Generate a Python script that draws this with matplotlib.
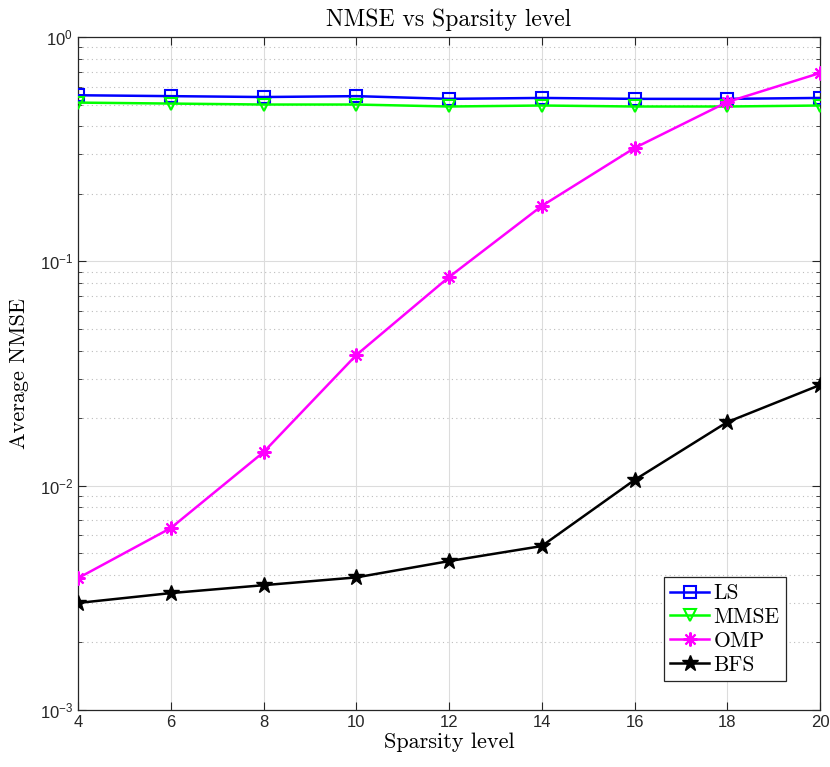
import matplotlib
matplotlib.use("Agg")
import matplotlib.pyplot as plt
from matplotlib.ticker import LogLocator, FixedLocator, NullFormatter, FuncFormatter

sparsity = [4, 6, 8, 10, 12, 14, 16, 18, 20]
ls_vals = [0.55, 0.545, 0.54, 0.545, 0.53, 0.535, 0.53, 0.53, 0.535]
mmse_vals = [0.51, 0.505, 0.50, 0.50, 0.49, 0.495, 0.49, 0.49, 0.495]
omp_vals = [0.00387, 0.00647, 0.0141, 0.0382, 0.0851, 0.1765, 0.32, 0.513, 0.691]
bfs_vals = [0.0030, 0.00332, 0.0036, 0.0039, 0.00461, 0.00538, 0.0106, 0.0192, 0.0281]
xticks = [4, 6, 8, 10, 12, 14, 16, 18, 20]

plt.rcParams['font.family'] = ['Liberation Sans', 'DejaVu Sans']
plt.rcParams['mathtext.fontset'] = 'custom'
plt.rcParams['mathtext.rm'] = 'Liberation Sans'
plt.rcParams['mathtext.it'] = 'Liberation Sans:italic'
plt.rcParams['mathtext.default'] = 'regular'

fig = plt.figure(figsize=(8.3, 7.67), dpi=100)
ax = fig.add_axes([78/830, 1-710/767, 742/830, 673/767])

ax.plot(sparsity, ls_vals, color='#0000ff', lw=1.8, marker='s', ms=8,
        mfc='none', mec='#0000ff', mew=1.5, label='LS', zorder=3)
ax.plot(sparsity, mmse_vals, color='#00ff00', lw=1.8, marker='v', ms=9,
        mfc='none', mec='#00ff00', mew=1.5, label='MMSE', zorder=3)
ax.plot(sparsity, omp_vals, color='#ff00ff', lw=1.8, marker=(8, 2, 0), ms=10,
        mec='#ff00ff', mew=1.5, label='OMP', zorder=3)
ax.plot(sparsity, bfs_vals, color='black', lw=1.8, marker='*', ms=12,
        mfc='black', mec='black', mew=1.0, label='BFS', zorder=3)

ax.set_yscale('log')
ax.set_ylim(1e-3, 1)
ax.set_xlim(4, 20)
ax.xaxis.set_major_locator(FixedLocator(xticks))
ax.yaxis.set_major_locator(LogLocator(base=10, numticks=10))
ax.yaxis.set_minor_locator(LogLocator(base=10, subs=range(2, 10), numticks=20))
ax.yaxis.set_minor_formatter(NullFormatter())

def yfmt(v, pos):
    import math
    e = int(round(math.log10(v)))
    return r'$10^{%d}$' % e
ax.yaxis.set_major_formatter(FuncFormatter(yfmt))

ax.grid(True, which='major', color='#dcdcdc', lw=0.8, ls='-')
ax.grid(True, which='minor', axis='y', color='#bdbdbd', lw=0.8, ls=(0, (1, 3)))
ax.set_axisbelow(True)

ax.tick_params(which='both', direction='in', top=True, right=True, colors='#262626',
               labelcolor='#262626', labelsize=12)
ax.tick_params(which='major', length=6)
ax.tick_params(which='minor', length=3)
for s in ax.spines.values():
    s.set_color('#262626')
    s.set_linewidth(0.9)

ax.set_title('NMSE vs Sparsity level', fontfamily='cmr10', fontsize=17, pad=8)
ax.set_xlabel('Sparsity level', fontfamily='cmr10', fontsize=16, labelpad=2)
ax.set_ylabel('Average NMSE', fontfamily='cmr10', fontsize=16, labelpad=8)

leg = ax.legend(loc='lower right', bbox_to_anchor=(0.954, 0.043),
                prop={'family': 'cmr10', 'size': 15.5}, fancybox=False,
                edgecolor='#262626', framealpha=1, handlelength=1.8,
                handletextpad=0.2, borderpad=0.3, labelspacing=0.2,
                borderaxespad=0)
leg.get_frame().set_linewidth(0.9)

fig.savefig('out.png', dpi=100)
